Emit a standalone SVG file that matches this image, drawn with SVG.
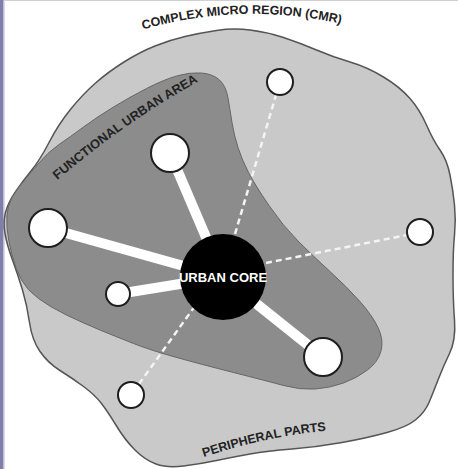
<svg xmlns="http://www.w3.org/2000/svg" width="458" height="469" viewBox="0 0 458 469">
<style>
.lbl{font-family:"Liberation Sans",Arial,sans-serif;font-weight:bold;fill:#222;}
.node{fill:#fff;stroke:#1e1e1e;stroke-width:2;}
.link{stroke:#fff;stroke-width:10;stroke-linecap:butt;fill:none;}
.dash{stroke:#f4f4f4;stroke-width:2.5;stroke-dasharray:6 4;fill:none;}
</style>
<defs>
<path id="cmrPath" d="M138,31 Q242,0 346,25"/>
<path id="fuaPath" d="M55,182 Q130,118 205,78"/>
<path id="ppPath" d="M198,459 Q265,436 332,430"/>
</defs>
<rect width="458" height="469" fill="#fff"/>
<line x1="0" y1="0.5" x2="458" y2="0.5" stroke="#d0d0d0"/>
<rect x="0" y="0" width="3.5" height="469" fill="#7f7fae"/>
<line x1="4.5" y1="0" x2="4.5" y2="469" stroke="#dcdcdc"/>

<g id="cmr">
<path d="M185,36.5 Q200,33 216.5,30.5 Q233,28 250,30 Q267,32 283.5,37.5 Q300,43 316.5,50 Q333,57 350,62 Q367,67 383.5,77 Q400,87 410,98.5 Q420,110 426.5,125 Q433,140 440,150 Q447,160 450,175 Q453,190 454.5,205 Q456,220 454.5,235 Q453,250 453,275 Q453,300 454.5,320 Q456,340 449.5,353.5 Q443,367 438,380 Q433,393 429,402.5 Q425,412 416,419.5 Q407,427 387,432.5 Q367,438 342,442.5 Q317,447 292,449 Q267,451 250,454 Q233,457 216.5,460.5 Q200,464 183.5,466 Q167,468 156,464 Q145,460 135,450 Q125,440 116.5,426 Q108,412 101.5,403.5 Q95,395 83.5,386.5 Q72,378 60,370.5 Q48,363 40,351.5 Q32,340 29.5,322.5 Q27,305 22.5,290 Q18,275 12.5,260 Q7,245 5,233.5 Q3,222 5.5,212.5 Q8,203 15,192.5 Q22,182 31,171 Q40,160 49,142.5 Q58,125 70,110 Q82,95 95,83.5 Q108,72 124,62 Q140,52 155,46 Q170,40 185,36.5 Z" fill="#c9c9c9" stroke="#555" stroke-width="1.5"/>
<text class="lbl" font-size="12.5" text-anchor="middle"><textPath href="#cmrPath" startOffset="50%">COMPLEX MICRO REGION (CMR)</textPath></text>
<text class="lbl" font-size="12.5" text-anchor="middle"><textPath href="#ppPath" startOffset="50%">PERIPHERAL PARTS</textPath></text>
</g>

<g id="fua">
<path d="M201.5,73 Q213,74 219.5,80 Q226,86 228,98 Q230,110 232,122.5 Q234,135 238,147.5 Q242,160 248.5,172.5 Q255,185 269,205.5 Q283,226 298,241 Q313,256 330,271.5 Q347,287 359.5,301 Q372,315 378,327.5 Q384,340 381,351 Q378,362 367.5,370 Q357,378 343.5,383 Q330,388 315,389 Q300,390 283.5,385.5 Q267,381 233.5,372.5 Q200,364 175,357 Q150,350 133.5,343.5 Q117,337 100,330 Q83,323 66.5,315 Q50,307 38.5,298.5 Q27,290 21.5,280 Q16,270 12,255 Q8,240 7,227.5 Q6,215 8.5,206 Q11,197 19,187 Q27,177 37.5,164.5 Q48,152 59,144.5 Q70,137 83.5,127 Q97,117 113.5,107 Q130,97 146.5,88.5 Q163,80 176.5,76 Q190,72 201.5,73 Z" fill="#8c8c8c" stroke="#666" stroke-width="1"/>
<text class="lbl" font-size="12.8" text-anchor="start"><textPath href="#fuaPath" startOffset="3">FUNCTIONAL URBAN AREA</textPath></text>
</g>

<g id="connectors">
<line class="link" x1="223" y1="277" x2="170" y2="153"/>
<line class="link" x1="223" y1="277" x2="48" y2="228"/>
<line class="link" x1="223" y1="277" x2="118" y2="294"/>
<line class="link" x1="223" y1="277" x2="323" y2="357"/>
<line class="dash" x1="235" y1="234" x2="276" y2="95"/>
<line class="dash" x1="266" y1="263" x2="407" y2="235"/>
<line class="dash" x1="195" y1="306" x2="139" y2="384"/>
</g>

<g id="node-n1"><circle class="node" cx="280" cy="82" r="13"/></g>
<g id="node-n2"><circle class="node" cx="170" cy="153" r="19"/></g>
<g id="node-n3"><circle class="node" cx="48" cy="228" r="19"/></g>
<g id="node-n4"><circle class="node" cx="118" cy="294" r="12"/></g>
<g id="node-n5"><circle class="node" cx="420" cy="232" r="13"/></g>
<g id="node-n6"><circle class="node" cx="323" cy="357" r="19"/></g>
<g id="node-n7"><circle class="node" cx="131" cy="395" r="13"/></g>
<g id="urban-core">
<circle cx="223" cy="277" r="43" fill="#000"/>
<text x="223" y="281.5" text-anchor="middle" font-family="Liberation Sans, Arial, sans-serif" font-weight="bold" font-size="13" fill="#fff">URBAN CORE</text>
</g>
</svg>
